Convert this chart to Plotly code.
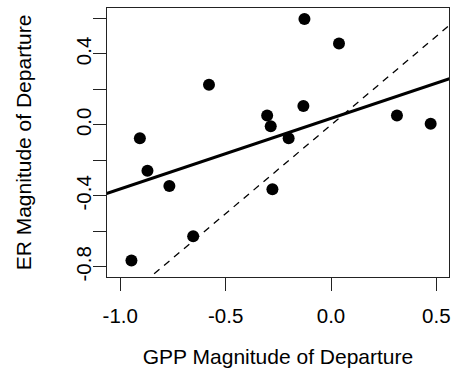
import plotly.graph_objects as go

# Data
gpp = [-0.126, 0.038, -0.579, -0.131, -0.303, -0.286, 0.313, 0.473,
       -0.907, -0.201, -0.871, -0.767, -0.278, -0.654, -0.947]
er = [0.597, 0.459, 0.226, 0.107, 0.053, -0.007, 0.053, 0.007,
      -0.075, -0.075, -0.258, -0.344, -0.363, -0.627, -0.764]

fit_intercept = 0.037
fit_slope = 0.398

x_ticks = [-1.0, -0.5, 0.0, 0.5]
x_labels = ["-1.0", "-0.5", "0.0", "0.5"]
y_ticks = [-0.8, -0.6, -0.4, -0.2, 0.0, 0.2, 0.4, 0.6]
y_labels = ["-0.8", "", "-0.4", "", "0.0", "", "0.4", ""]

x_range = [-1.063, 0.560]
y_range = [-0.857, 0.659]

line_x = [-1.5, 1.0]

font = "Liberation Sans, Arial, Helvetica, sans-serif"

fig = go.Figure()
fig.add_trace(go.Scatter(
    x=line_x, y=line_x, mode="lines",
    line=dict(color="black", width=1.3, dash="7px,6px"),
    hoverinfo="skip", showlegend=False))
fig.add_trace(go.Scatter(
    x=line_x, y=[fit_intercept + fit_slope * v for v in line_x], mode="lines",
    line=dict(color="black", width=3),
    hoverinfo="skip", showlegend=False))
fig.add_trace(go.Scatter(
    x=gpp, y=er, mode="markers",
    marker=dict(color="black", size=12, line=dict(width=0)),
    showlegend=False))

axis_common = dict(
    showgrid=False, zeroline=False, showline=True, mirror=True,
    linecolor="#222", linewidth=1.2, ticks="outside", ticklen=13,
    tickwidth=1.2, tickcolor="#222",
    tickfont=dict(family=font, size=20.5, color="black"),
)

fig.update_layout(
    width=455, height=382,
    margin=dict(l=107, r=4, t=8, b=105),
    paper_bgcolor="white", plot_bgcolor="white",
    xaxis=dict(range=x_range, tickvals=x_ticks, ticktext=x_labels,
               ticklabelstandoff=7,
               title=dict(text="GPP Magnitude of Departure",
                          font=dict(family=font, size=21, color="black"),
                          standoff=23),
               **axis_common),
    yaxis=dict(range=y_range, tickvals=y_ticks, ticktext=y_labels,
               tickangle=-90, ticklabelstandoff=-6,
               title=dict(text="ER Magnitude of Departure",
                          font=dict(family=font, size=21, color="black"),
                          standoff=34),
               **axis_common),
)

fig.write_html("out.html")
